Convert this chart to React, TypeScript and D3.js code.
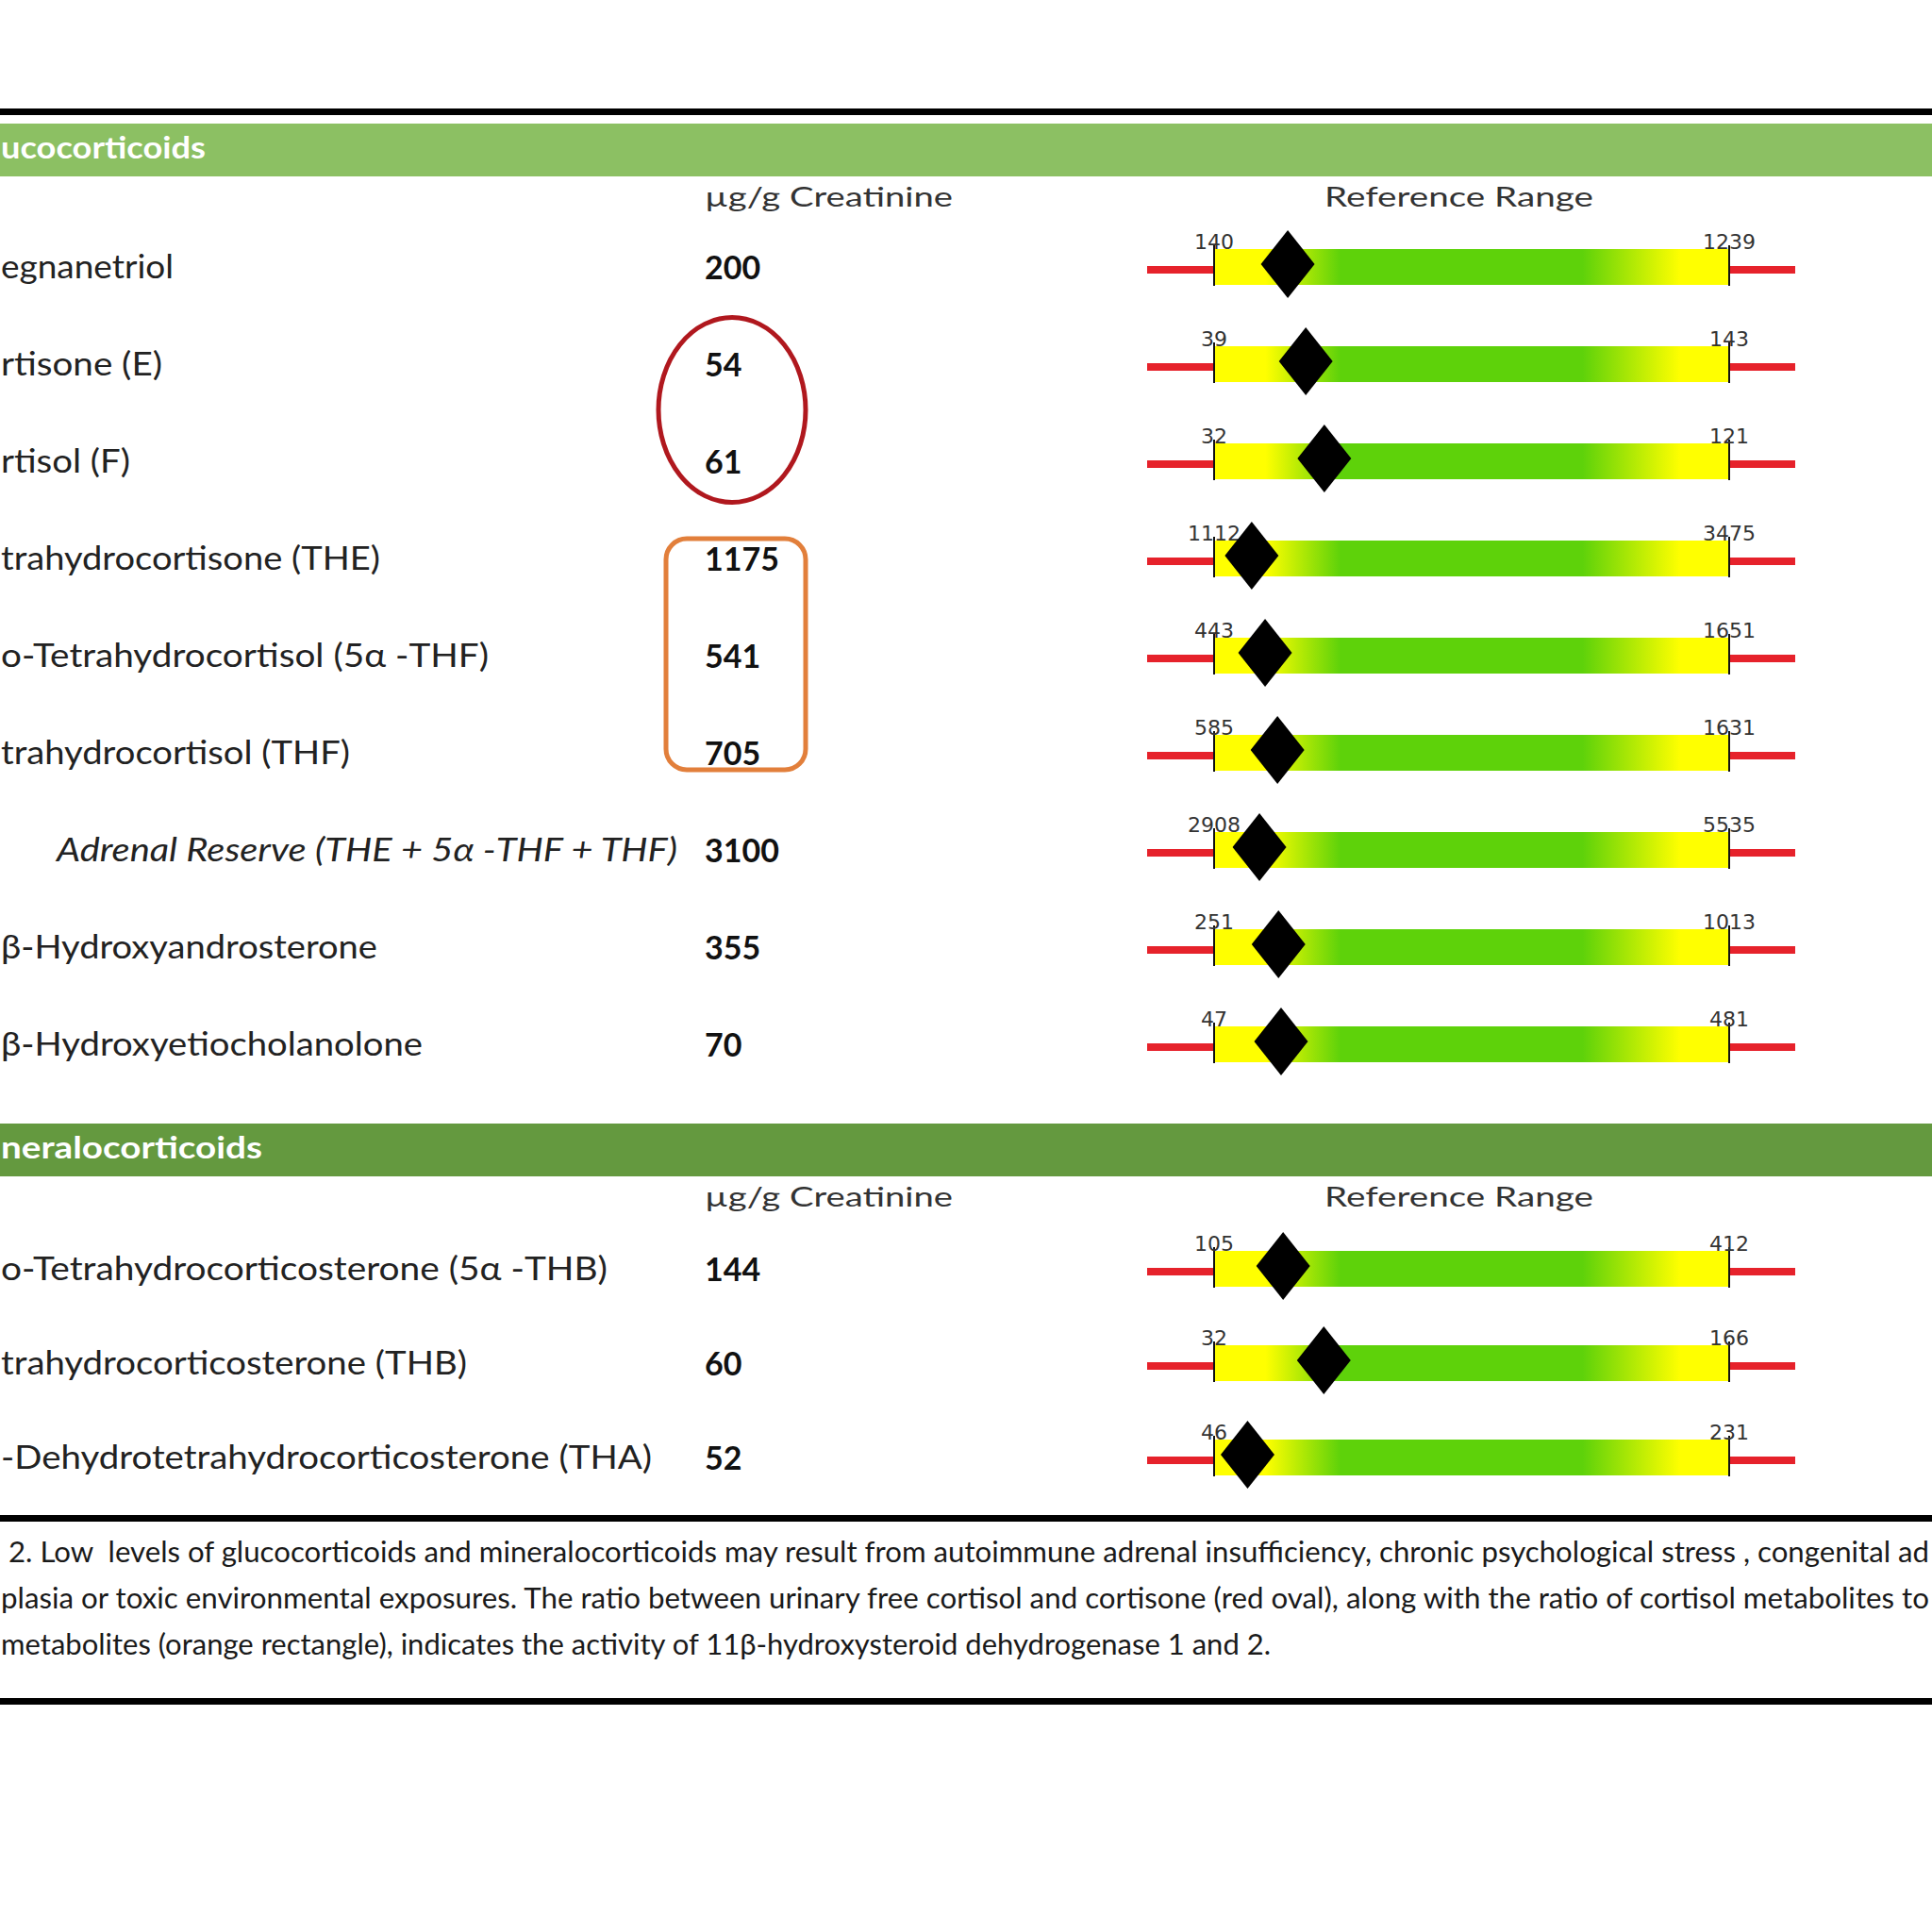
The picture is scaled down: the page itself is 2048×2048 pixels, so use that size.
import React from 'react';
import * as d3 from 'd3';

// ---------- data ----------
const glucoTitle = 'ucocorticoids';
const mineralTitle = 'neralocorticoids';
const unitHeader = 'µg/g Creatinine';
const rangeHeader = 'Reference Range';

const glucoLabels = [
  'egnanetriol',
  'rtisone (E)',
  'rtisol (F)',
  'trahydrocortisone (THE)',
  'o-Tetrahydrocortisol (5α -THF)',
  'trahydrocortisol (THF)',
  'Adrenal Reserve (THE + 5α -THF + THF)',
  'β-Hydroxyandrosterone',
  'β-Hydroxyetiocholanolone',
];
const glucoValues = [200, 54, 61, 1175, 541, 705, 3100, 355, 70];
const glucoLow = [140, 39, 32, 1112, 443, 585, 2908, 251, 47];
const glucoHigh = [1239, 143, 121, 3475, 1651, 1631, 5535, 1013, 481];
// relative position of the diamond inside the reference band (0 = low end, 1 = high end)
const glucoMarker = [0.143, 0.178, 0.214, 0.073, 0.099, 0.123, 0.088, 0.125, 0.13];

const mineralLabels = [
  'o-Tetrahydrocorticosterone (5α -THB)',
  'trahydrocorticosterone (THB)',
  '-Dehydrotetrahydrocorticosterone (THA)',
];
const mineralValues = [144, 60, 52];
const mineralLow = [105, 32, 46];
const mineralHigh = [412, 166, 231];
const mineralMarker = [0.134, 0.213, 0.065];

const captionLines = [
  '2. Low  levels of glucocorticoids and mineralocorticoids may result from autoimmune adrenal insufficiency, chronic psychological stress , congenital ad',
  'plasia or toxic environmental exposures. The ratio between urinary free cortisol and cortisone (red oval), along with the ratio of cortisol metabolites to',
  'metabolites (orange rectangle), indicates the activity of 11β-hydroxysteroid dehydrogenase 1 and 2.',
];

// ---------- layout (not data) ----------
const W = 2048;
const H = 2048;
const FONT = 'Lato, "Open Sans", sans-serif';
const glucoLabelSpan: [number, number][] = [
  [1, 184], [1, 172], [1, 138], [1, 403], [1, 518], [1, 371], [60, 718], [1, 400], [1, 448],
];
const mineralLabelSpan: [number, number][] = [[1, 644], [1, 495], [1, 691]];
const captionSpan: [number, number][] = [[9, 2045], [1, 2045], [1, 1347]];

const BAR_X0 = 1287;
const BAR_X1 = 1833;
const RED_X0 = 1216;
const RED_X1 = 1903;
const BAR_H = 38;

type Row = { label: string; value: number; low: number; high: number; marker: number; span: [number, number] };

function Section({
  rows, top, yFirst, yLast, title, bandColor, titleEnd, italicIndex,
}: {
  rows: Row[]; top: number; yFirst: number; yLast: number; title: string; bandColor: string; titleEnd: number; italicIndex: number;
}) {
  const y = d3.scalePoint<number>().domain(rows.map((_, i) => i)).range([yFirst, yLast]).padding(0);
  const x = d3.scaleLinear().domain([0, 1]).range([BAR_X0, BAR_X1]);
  const diamond = d3.line();
  return (
    <g>
      <rect x={0} y={top} width={W} height={56} fill={bandColor} />
      <text x={1} y={top + 37} fontFamily={FONT} fontWeight={700} fontSize={33} fill="#ffffff"
        textLength={titleEnd - 1} lengthAdjust="spacingAndGlyphs">{title}</text>
      <text x={747} y={top + 88} fontFamily={FONT} fontSize={29} fill="#333333"
        textLength={263} lengthAdjust="spacingAndGlyphs">{unitHeader}</text>
      <text x={1404} y={top + 88} fontFamily={FONT} fontSize={29} fill="#333333"
        textLength={285} lengthAdjust="spacingAndGlyphs">{rangeHeader}</text>
      {rows.map((r, i) => {
        const cy = y(i) as number;
        const mx = x(r.marker);
        const my = cy - 3;
        const pts: [number, number][] = [[mx, my - 36], [mx + 28.5, my], [mx, my + 36], [mx - 28.5, my]];
        return (
          <g key={i}>
            <text x={r.span[0]} y={cy + 12} fontFamily={FONT} fontSize={34} fill="#222222"
              fontStyle={i === italicIndex ? 'italic' : 'normal'}
              textLength={r.span[1] - r.span[0]} lengthAdjust="spacingAndGlyphs">{r.label}</text>
            <text x={747} y={cy + 13} fontFamily={FONT} fontSize={34} fontWeight={700} fill="#111111">{r.value}</text>
            <rect x={RED_X0} y={cy - 1} width={BAR_X0 - RED_X0} height={8} fill="#e6222b" />
            <rect x={BAR_X1} y={cy - 1} width={RED_X1 - BAR_X1} height={8} fill="#e6222b" />
            <rect x={x(0)} y={cy - BAR_H / 2} width={x(1) - x(0)} height={BAR_H} fill="url(#rangeGrad)" />
            <line x1={x(0)} x2={x(0)} y1={cy - 23} y2={cy + 20} stroke="#111" strokeWidth={2} />
            <line x1={x(1)} x2={x(1)} y1={cy - 23} y2={cy + 20} stroke="#111" strokeWidth={2} />
            <text x={x(0)} y={cy - 19} textAnchor="middle" fontFamily="'DejaVu Sans', sans-serif" fontSize={22} fill="#333">{r.low}</text>
            <text x={x(1)} y={cy - 19} textAnchor="middle" fontFamily="'DejaVu Sans', sans-serif" fontSize={22} fill="#333">{r.high}</text>
            <path d={diamond(pts) + 'Z'} fill="#000" />
          </g>
        );
      })}
    </g>
  );
}

export default function App() {
  const glucoRows: Row[] = glucoLabels.map((l, i) => ({
    label: l, value: glucoValues[i], low: glucoLow[i], high: glucoHigh[i], marker: glucoMarker[i], span: glucoLabelSpan[i],
  }));
  const mineralRows: Row[] = mineralLabels.map((l, i) => ({
    label: l, value: mineralValues[i], low: mineralLow[i], high: mineralHigh[i], marker: mineralMarker[i], span: mineralLabelSpan[i],
  }));
  const gy = d3.scalePoint<number>().domain(glucoRows.map((_, i) => i)).range([283, 1107]);

  return (
    <svg width={W} height={H} viewBox={`0 0 ${W} ${H}`} style={{ position: 'absolute', left: 0, top: 0, background: '#fff' }}>
      <defs>
        <linearGradient id="rangeGrad" x1="0" x2="1" y1="0" y2="0">
          <stop offset="0" stopColor="#ffff00" />
          <stop offset="0.10" stopColor="#ffff00" />
          <stop offset="0.245" stopColor="#5ed20a" />
          <stop offset="0.715" stopColor="#5ed20a" />
          <stop offset="0.905" stopColor="#ffff00" />
          <stop offset="1" stopColor="#ffff00" />
        </linearGradient>
      </defs>
      <rect x={0} y={0} width={W} height={H} fill="#ffffff" />
      <rect x={0} y={115} width={W} height={7} fill="#000" />

      <Section rows={glucoRows} top={131} yFirst={283} yLast={1107} title={glucoTitle} bandColor="#8cc063" titleEnd={218} italicIndex={6} />
      <Section rows={mineralRows} top={1191} yFirst={1345} yLast={1545} title={mineralTitle} bandColor="#64993f" titleEnd={278} italicIndex={-1} />

      {/* red oval around cortisone / cortisol */}
      <ellipse cx={776} cy={((gy(1) as number) + (gy(2) as number)) / 2 - 3} rx={78} ry={98} fill="none" stroke="#b0181e" strokeWidth={5} />
      {/* orange rounded rectangle around THE / 5a-THF / THF */}
      <rect x={706} y={(gy(3) as number) - 21} width={148} height={(gy(5) as number) - (gy(3) as number) + 39} rx={22} ry={22}
        fill="none" stroke="#e27f3b" strokeWidth={5} />

      <rect x={0} y={1606} width={W} height={7} fill="#000" />
      {captionLines.map((t, i) => (
        <text key={i} x={captionSpan[i][0]} y={1656 + i * 49} fontFamily={FONT} fontSize={30} fill="#1a1a1a"
          style={{ whiteSpace: 'pre' }} textLength={captionSpan[i][1] - captionSpan[i][0]} lengthAdjust="spacingAndGlyphs">{t}</text>
      ))}
      <rect x={0} y={1800} width={W} height={7} fill="#000" />
    </svg>
  );
}
